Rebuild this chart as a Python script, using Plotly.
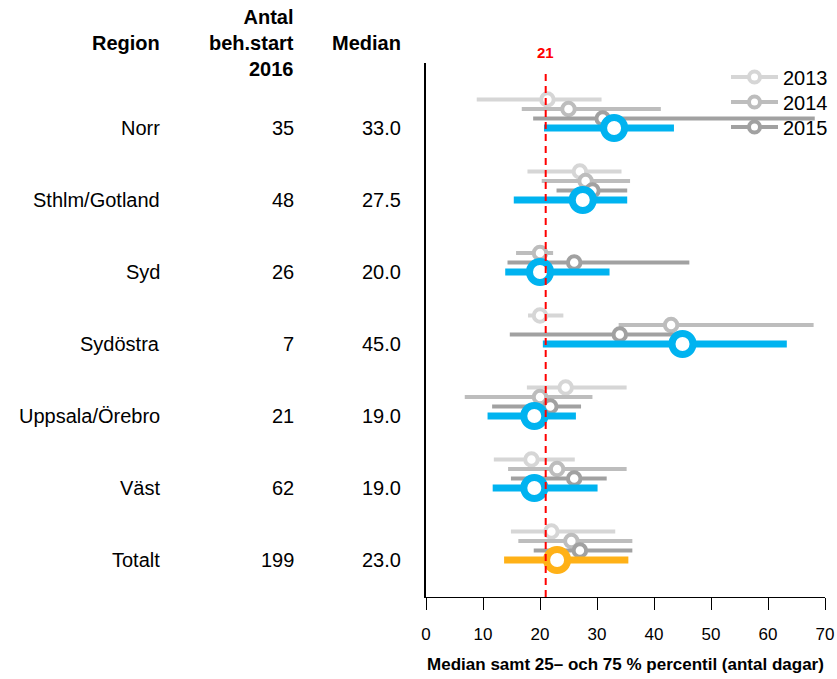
import plotly.graph_objects as go

# ---------------- data ----------------
regions = ["Norr", "Sthlm/Gotland", "Syd", "Sydöstra", "Uppsala/Örebro", "Väst", "Totalt"]
antal_2016 = [35, 48, 26, 7, 21, 62, 199]
median_2016 = [33.0, 27.5, 20.0, 45.0, 19.0, 19.0, 23.0]
p25_2016 = [20.7, 15.4, 13.9, 20.5, 10.8, 11.7, 13.7]
p75_2016 = [43.5, 35.3, 32.2, 63.3, 26.3, 30.1, 35.5]

median_2013 = [21.3, 27.0, None, 20.0, 24.5, 18.5, 22.0]
p25_2013 = [8.9, 17.8, None, 17.9, 17.7, 11.9, 14.9]
p75_2013 = [30.8, 34.3, None, 24.1, 35.2, 26.1, 33.2]

median_2014 = [25.0, 28.0, 20.0, 43.0, 20.0, 23.0, 25.5]
p25_2014 = [16.8, 20.3, 15.8, 33.8, 6.8, 14.4, 16.2]
p75_2014 = [41.2, 35.8, 22.3, 68.0, 29.2, 35.2, 36.2]

median_2015 = [31.0, 29.2, 26.0, 34.0, 21.8, 26.0, 27.0]
p25_2015 = [18.8, 22.9, 14.3, 14.7, 11.6, 14.9, 18.9]
p75_2015 = [68.2, 35.3, 46.2, 44.0, 27.2, 31.7, 36.2]

years = ["2013", "2014", "2015"]
reference_value = 21
x_ticks = [0, 10, 20, 30, 40, 50, 60, 70]

# ---------------- styling ----------------
FONT = "Liberation Sans, Arial, Helvetica, sans-serif"
W, H = 837, 679
PLOT_L, PLOT_R, PLOT_T, PLOT_B = 426, 825, 63, 597
ROW_PX = 72.0
ROW0_PX = 128.0
YEAR_OFF = 9.5 / ROW_PX

grey_cols = ["#d6d6d6", "#bdbdbd", "#a1a1a1"]
blue = "#00B3F0"
orange = "#FFB117"
cur_cols = [blue] * 6 + [orange]

old_series = [
    (median_2013, p25_2013, p75_2013),
    (median_2014, p25_2014, p75_2014),
    (median_2015, p25_2015, p75_2015),
]

fig = go.Figure()


def seg_xy(lo, hi, ypos):
    xs, ys = [], []
    for a, b, yy in zip(lo, hi, ypos):
        if a is None or b is None:
            continue
        xs += [a, b, None]
        ys += [yy, yy, None]
    return xs, ys


def py_to_paper(py):
    return (PLOT_B - py) / (PLOT_B - PLOT_T)


def px_to_paper(px):
    return px / W


n = len(regions)
# older years (grey)
for k, (med, lo, hi) in enumerate(old_series):
    ypos = [i + (k - 3) * YEAR_OFF for i in range(n)]
    xs, ys = seg_xy(lo, hi, ypos)
    fig.add_trace(go.Scatter(x=xs, y=ys, mode="lines",
                             line=dict(color=grey_cols[k], width=4),
                             showlegend=False, hoverinfo="skip"))
    mx = [m for m in med if m is not None]
    my = [yy for m, yy in zip(med, ypos) if m is not None]
    fig.add_trace(go.Scatter(x=mx, y=my, mode="markers",
                             marker=dict(size=12.5, color="white",
                                         line=dict(color=grey_cols[k], width=4)),
                             showlegend=False))

# current year (2016)
ypos16 = list(range(n))
for col in [blue, orange]:
    idx = [i for i in range(n) if cur_cols[i] == col]
    xs, ys = seg_xy([p25_2016[i] for i in idx], [p75_2016[i] for i in idx],
                    [ypos16[i] for i in idx])
    fig.add_trace(go.Scatter(x=xs, y=ys, mode="lines",
                             line=dict(color=col, width=7),
                             showlegend=False, hoverinfo="skip"))
fig.add_trace(go.Scatter(x=median_2016, y=ypos16, mode="markers",
                         marker=dict(size=21, color="white",
                                     line=dict(color=cur_cols, width=7)),
                         showlegend=False))

# legend entries (one legend per row for exact spacing)
legend_names = ["legend", "legend2", "legend3"]
legend_rows_px = [77, 102, 127]
for k, yr in enumerate(years):
    fig.add_trace(go.Scatter(x=[None], y=[None], mode="lines+markers", name=yr,
                             legend=legend_names[k],
                             line=dict(color=grey_cols[k], width=4),
                             marker=dict(size=11, color="white",
                                         line=dict(color=grey_cols[k], width=4))))

# reference line
fig.add_shape(type="line", xref="x", yref="paper",
              x0=reference_value, x1=reference_value,
              y0=0, y1=py_to_paper(72),
              line=dict(color="#FF0000", width=2, dash="7px,5px"))
fig.add_annotation(x=reference_value, xref="x", y=py_to_paper(53), yref="paper",
                   text="<b>%d</b>" % reference_value, showarrow=False,
                   font=dict(family=FONT, size=15, color="#FF0000"),
                   xanchor="center", yanchor="middle")

# table text
x_region = px_to_paper(162)
x_antal = px_to_paper(296)
x_median = px_to_paper(403)
for i in range(n):
    for xp, txt in [(x_region, regions[i]), (x_antal, str(antal_2016[i])),
                    (x_median, "%.1f" % median_2016[i])]:
        fig.add_annotation(x=xp, xref="paper", y=i, yref="y", text=txt,
                           showarrow=False, xanchor="right", yanchor="middle",
                           font=dict(family=FONT, size=20, color="black"))

hdr_font = dict(family=FONT, size=20, color="black")
fig.add_annotation(x=x_region, xref="paper", y=py_to_paper(43), yref="paper",
                   text="<b>Region</b>", showarrow=False, xanchor="right",
                   yanchor="middle", font=hdr_font)
fig.add_annotation(x=x_antal, xref="paper", y=py_to_paper(43), yref="paper",
                   text="<b>Antal</b><br><b>beh.start</b><br><b>2016</b>",
                   showarrow=False, xanchor="right", yanchor="middle",
                   align="right", font=hdr_font)
fig.add_annotation(x=x_median, xref="paper", y=py_to_paper(43), yref="paper",
                   text="<b>Median</b>", showarrow=False, xanchor="right",
                   yanchor="middle", font=hdr_font)

y_top = (PLOT_T - ROW0_PX) / ROW_PX
y_bot = (PLOT_B - ROW0_PX) / ROW_PX

legend_style = dict(xanchor="left", yanchor="middle",
                    font=dict(family=FONT, size=20, color="black"),
                    bgcolor="rgba(0,0,0,0)", borderwidth=0, itemwidth=47)
layout_legends = {}
for k, name in enumerate(legend_names):
    layout_legends[name] = dict(x=px_to_paper(726), y=py_to_paper(legend_rows_px[k]),
                                **legend_style)

fig.update_layout(
    width=W, height=H,
    margin=dict(l=0, r=0, t=PLOT_T, b=H - PLOT_B, autoexpand=False),
    plot_bgcolor="white", paper_bgcolor="white",
    font=dict(family=FONT, size=17, color="black"),
    xaxis=dict(range=[0, 70],
               domain=[PLOT_L / W, PLOT_R / W],
               tickvals=x_ticks, ticks="outside", ticklen=12, tickcolor="black",
               tickwidth=1, showline=True, linecolor="black", linewidth=1,
               showgrid=False, zeroline=False, ticklabelstandoff=10,
               tickfont=dict(family=FONT, size=17, color="black"),
               title=dict(text="<b>Median samt 25– och 75 % percentil (antal dagar)</b>",
                          font=dict(family=FONT, size=17, color="black"),
                          standoff=14)),
    yaxis=dict(range=[y_bot, y_top], showticklabels=False, ticks="",
               showline=True, linecolor="black", linewidth=1.5,
               showgrid=False, zeroline=False),
    showlegend=True,
    **layout_legends,
)

fig.write_html("out.html",
               config={"displayModeBar": False},
               post_script="document.body.style.margin='0';"
                           "document.body.style.overflow='hidden';")
